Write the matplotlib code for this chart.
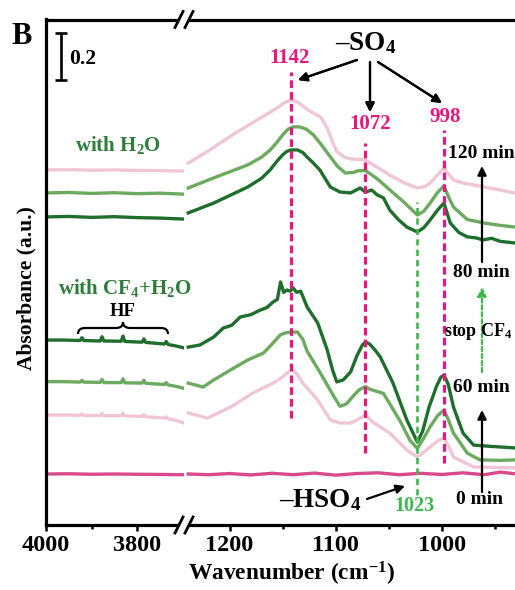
import matplotlib
matplotlib.use("Agg")
import matplotlib.pyplot as plt
from matplotlib.path import Path
from matplotlib.patches import PathPatch, Polygon
from matplotlib.lines import Line2D
from matplotlib.ticker import FixedLocator

plt.rcParams['font.family'] = ['Liberation Serif', 'DejaVu Serif']
plt.rcParams['font.weight'] = 'bold'
plt.rcParams['mathtext.fontset'] = 'custom'
plt.rcParams['mathtext.rm'] = 'Liberation Serif:bold'
plt.rcParams['mathtext.it'] = 'Liberation Serif:bold'
plt.rcParams['mathtext.bf'] = 'Liberation Serif:bold'
plt.rcParams['mathtext.default'] = 'rm'
plt.rcParams['lines.scale_dashes'] = False

# ---------------- spectra (absorbance, stacked) ----------------
# high-wavenumber window (O-H / HF region)
hf_wn = [4000, 3960, 3925, 3921, 3917, 3881, 3877, 3873, 3835, 3831, 3827,
         3789, 3785, 3781, 3740, 3736, 3732, 3715, 3700]
cf4_dark_hf = [0.787, 0.787, 0.785, 0.797, 0.785, 0.783, 0.801, 0.783, 0.782,
               0.804, 0.781, 0.778, 0.792, 0.777, 0.770, 0.781, 0.768, 0.762, 0.755]
cf4_mid_hf = [0.610, 0.610, 0.608, 0.615, 0.608, 0.607, 0.620, 0.606, 0.606,
              0.622, 0.605, 0.604, 0.616, 0.603, 0.598, 0.606, 0.596, 0.590, 0.583]
cf4_pink_hf = [0.468, 0.468, 0.467, 0.472, 0.466, 0.466, 0.474, 0.465, 0.465,
               0.476, 0.464, 0.462, 0.470, 0.461, 0.455, 0.460, 0.452, 0.445, 0.436]

oh_wn = [4000, 3950, 3900, 3850, 3800, 3750, 3700]
h2o_pink_oh = [1.511, 1.512, 1.510, 1.511, 1.509, 1.508, 1.506]
h2o_mid_oh = [1.413, 1.415, 1.411, 1.414, 1.410, 1.412, 1.408]
h2o_dark_oh = [1.311, 1.313, 1.309, 1.312, 1.308, 1.306, 1.302]
t0_oh = [0.217, 0.218, 0.216, 0.217, 0.216, 0.215, 0.214]

# sulfate window
h2o_pink_wn = [1239, 1220, 1199, 1180, 1165, 1155, 1148, 1142, 1136, 1128, 1121, 1114,
               1108, 1103, 1099, 1092, 1086, 1072, 1060, 1049, 1035, 1023, 1016, 1011,
               1004, 998, 993, 989, 980, 970, 950, 931]
h2o_pink = [1.540, 1.592, 1.655, 1.708, 1.748, 1.775, 1.798, 1.809, 1.800, 1.772, 1.753,
            1.735, 1.690, 1.630, 1.590, 1.566, 1.558, 1.553, 1.520, 1.489, 1.455, 1.434,
            1.440, 1.455, 1.490, 1.519, 1.490, 1.468, 1.455, 1.447, 1.430, 1.413]

h2o_mid_wn = [1239, 1215, 1183, 1170, 1162, 1156, 1150, 1145, 1140, 1134, 1128, 1121,
              1113, 1105, 1098, 1091, 1084, 1078, 1072, 1066, 1060, 1049, 1036, 1023,
              1017, 1011, 1004, 998, 993, 989, 976, 960, 945, 931]
h2o_mid = [1.434, 1.477, 1.532, 1.565, 1.595, 1.625, 1.660, 1.684, 1.694, 1.694, 1.685,
           1.660, 1.615, 1.566, 1.525, 1.498, 1.500, 1.508, 1.508, 1.490, 1.470, 1.426,
           1.375, 1.319, 1.335, 1.370, 1.415, 1.443, 1.390, 1.353, 1.300, 1.285, 1.275,
           1.268]

h2o_dark_wn = [1239, 1215, 1183, 1170, 1162, 1155, 1150, 1146, 1142, 1136, 1131, 1127,
               1121, 1115, 1105, 1096, 1086, 1077, 1072, 1066, 1061, 1055, 1049, 1041,
               1033, 1023, 1017, 1011, 1004, 998, 992, 984, 976, 968, 961, 953, 945, 931]
h2o_dark = [1.328, 1.370, 1.438, 1.475, 1.510, 1.550, 1.575, 1.590, 1.596, 1.596, 1.585,
            1.566, 1.540, 1.511, 1.438, 1.417, 1.413, 1.434, 1.417, 1.425, 1.405, 1.392,
            1.340, 1.300, 1.268, 1.247, 1.265, 1.298, 1.340, 1.370, 1.285, 1.245, 1.226,
            1.222, 1.213, 1.220, 1.207, 1.200]

cf4_dark_wn = [1239, 1228, 1215, 1206, 1198, 1190, 1180, 1171, 1165, 1159, 1155, 1152,
               1149, 1146, 1143, 1140, 1137, 1133, 1127, 1117, 1108, 1103, 1099, 1093,
               1086, 1080, 1075, 1072, 1068, 1063, 1058, 1046, 1033, 1027, 1023, 1018,
               1012, 1005, 1001, 998, 994, 989, 980, 970, 955, 931]
cf4_dark = [0.757, 0.766, 0.800, 0.838, 0.850, 0.885, 0.895, 0.915, 0.925, 0.949, 0.960,
            1.034, 0.990, 1.000, 0.995, 1.009, 0.990, 0.995, 0.928, 0.860, 0.745, 0.660,
            0.609, 0.617, 0.651, 0.720, 0.765, 0.779, 0.770, 0.745, 0.715, 0.604, 0.447,
            0.390, 0.353, 0.400, 0.502, 0.590, 0.628, 0.638, 0.600, 0.502, 0.391, 0.340,
            0.335, 0.328]

cf4_mid_wn = [1239, 1225, 1215, 1199, 1183, 1168, 1160, 1152, 1147, 1142, 1136, 1131,
              1127, 1115, 1102, 1096, 1090, 1084, 1078, 1072, 1068, 1055, 1039, 1030,
              1023, 1017, 1011, 1004, 998, 994, 989, 976, 964, 945, 931]
cf4_mid = [0.604, 0.587, 0.617, 0.660, 0.702, 0.732, 0.770, 0.810, 0.818, 0.821, 0.821,
           0.790, 0.740, 0.651, 0.549, 0.505, 0.515, 0.546, 0.575, 0.589, 0.578, 0.560,
           0.440, 0.360, 0.326, 0.370, 0.418, 0.465, 0.489, 0.450, 0.391, 0.306, 0.277,
           0.275, 0.277]

cf4_pink_wn = [1239, 1221, 1199, 1178, 1159, 1150, 1146, 1141, 1136, 1131, 1117, 1105,
               1096, 1086, 1080, 1072, 1065, 1049, 1033, 1023, 1011, 1003, 998, 993,
               989, 970, 950, 931]
cf4_pink = [0.477, 0.455, 0.502, 0.562, 0.604, 0.630, 0.647, 0.660, 0.640, 0.604, 0.532,
            0.447, 0.434, 0.434, 0.447, 0.468, 0.438, 0.391, 0.319, 0.289, 0.332, 0.360,
            0.370, 0.330, 0.289, 0.247, 0.245, 0.243]

t0_wn = [1239, 1220, 1200, 1180, 1160, 1140, 1120, 1100, 1080, 1060, 1040, 1020,
         1000, 980, 960, 945, 931]
t0 = [0.217, 0.214, 0.219, 0.213, 0.220, 0.214, 0.221, 0.212, 0.219, 0.222, 0.214,
      0.220, 0.215, 0.222, 0.214, 0.225, 0.218]

# band positions
so4_bands = [1142, 1072, 998]
hso4_band = 1023

# ---------------- styling ----------------
DARK = '#1f6e2d'
MID = '#6cab5f'
PINK = '#f0c6d7'
T0 = '#d94b88'
MAG = '#e6177f'
GRN = '#3db84b'
LABEL_GREEN = '#2e7d3a'

W, H = 515, 590
fig = plt.figure(figsize=(W / 100, H / 100), dpi=100)


def fp(x, y):
    """pixel position -> figure fraction"""
    return (x / W, 1 - y / H)


x_left, x_break, x_right = 46, 184, 515
y_top, y_bot = 19.5, 525
ax1 = fig.add_axes([x_left / W, 1 - y_bot / H, (x_break - x_left) / W, (y_bot - y_top) / H])
ax2 = fig.add_axes([x_break / W, 1 - y_bot / H, (x_right - x_break) / W, (y_bot - y_top) / H])

ymax = (y_bot - y_top) / 235.0
for ax in (ax1, ax2):
    ax.set_ylim(0, ymax)
    ax.set_yticks([])
    for s in ('top', 'bottom', 'left', 'right'):
        ax.spines[s].set_linewidth(2.3)
    ax.spines['right'].set_visible(False)
    ax.tick_params(axis='x', which='major', direction='out', length=4.5, width=1.8,
                   labelsize=17.5, pad=3)
    ax.tick_params(axis='x', which='minor', direction='out', length=3, width=1.8)
    ax.set_facecolor('none')
ax2.spines['left'].set_visible(False)

ax1.set_xlim(4000, 3697)
ax2.set_xlim(1243, 931)
ax1.xaxis.set_major_locator(FixedLocator([4000, 3800]))
ax1.xaxis.set_minor_locator(FixedLocator([3900]))
ax2.xaxis.set_major_locator(FixedLocator([1200, 1100, 1000]))
ax2.xaxis.set_minor_locator(FixedLocator([1150, 1050, 950]))

lw = 2.4
# high-wavenumber window
ax1.plot(oh_wn, h2o_pink_oh, color=PINK, lw=lw)
ax1.plot(oh_wn, h2o_mid_oh, color=MID, lw=lw)
ax1.plot(oh_wn, h2o_dark_oh, color=DARK, lw=lw)
ax1.plot(hf_wn, cf4_pink_hf, color=PINK, lw=lw)
ax1.plot(hf_wn, cf4_mid_hf, color=MID, lw=lw)
ax1.plot(hf_wn, cf4_dark_hf, color=DARK, lw=lw)
ax1.plot(oh_wn, t0_oh, color=T0, lw=lw)

# sulfate window
ax2.plot(h2o_pink_wn, h2o_pink, color=PINK, lw=lw, zorder=2)
ax2.plot(h2o_mid_wn, h2o_mid, color=MID, lw=lw, zorder=2)
ax2.plot(h2o_dark_wn, h2o_dark, color=DARK, lw=lw, zorder=2)
ax2.plot(cf4_pink_wn, cf4_pink, color=PINK, lw=lw, zorder=2)
ax2.plot(cf4_mid_wn, cf4_mid, color=MID, lw=lw, zorder=2)
ax2.plot(cf4_dark_wn, cf4_dark, color=DARK, lw=lw, zorder=2)
ax2.plot(t0_wn, t0, color=T0, lw=lw, zorder=2)

# band guide lines
band_spans = {1142: (0.455, 1.928), 1072: (0.306, 1.626), 998: (0.264, 1.681)}
for b in so4_bands:
    lo, hi = band_spans[b]
    ax2.plot([b, b], [lo, hi], color=MAG, lw=2.3, dashes=(5.5, 3), zorder=3)
ax2.plot([hso4_band, hso4_band], [0.128, 1.374], color=GRN, lw=1.9, dashes=(4.5, 3), zorder=3)

# scale bar (0.2 absorbance)
sb_x, sb_y0 = 3966, 1.894
ax1.plot([sb_x, sb_x], [sb_y0, sb_y0 + 0.2], color='k', lw=1.9, solid_capstyle='butt')
ax1.plot([sb_x, sb_x], [sb_y0, sb_y0 + 0.2], ls='none', marker='_', ms=8, mew=1.9, color='k')
fig.text(*fp(69, 59), '0.2', fontsize=15.5, ha='left', va='center')

# axis break marks
for yb in (y_top, y_bot):
    a = [(x_break - 9, yb + 8), (x_break - 1, yb - 8)]
    b = [(x_break + 1, yb + 8), (x_break + 9, yb - 8)]
    gap = Polygon([fp(*a[0]), fp(*a[1]), fp(*b[1]), fp(*b[0])], closed=True,
                  transform=fig.transFigure, facecolor='white', edgecolor='none', zorder=10)
    fig.add_artist(gap)
    for seg in (a, b):
        fig.add_artist(Line2D([fp(*seg[0])[0], fp(*seg[1])[0]],
                              [fp(*seg[0])[1], fp(*seg[1])[1]],
                              transform=fig.transFigure, color='k', lw=2.0, zorder=11))

# axis labels
fig.text(*fp(291, 574), 'Wavenumber (cm$^{-1}$)', fontsize=16.8, ha='center', va='center')
fig.text(*fp(26, 288), 'Absorbance (a.u.)', fontsize=15.5, ha='center', va='center',
         rotation=90)
fig.text(*fp(22, 37), 'B', fontsize=22, ha='center', va='center')

# band labels
fig.text(*fp(290, 58), '1142', color=MAG, fontsize=15, ha='center', va='center')
fig.text(*fp(370, 124), '1072', color=MAG, fontsize=15, ha='center', va='center')
fig.text(*fp(445, 117), '998', color=MAG, fontsize=15, ha='center', va='center')
fig.text(*fp(415, 506), '1023', color=GRN, fontsize=14.5, ha='center', va='center')

fig.text(*fp(366, 43), '–SO$_4$', fontsize=19.5, ha='center', va='center')
arrow_kw = dict(arrowstyle='-|>', color='k', lw=1.6, mutation_scale=13, shrinkA=0, shrinkB=0)
for tail, head in (((357, 60), (298, 80)), ((370, 62), (370, 112)), ((378, 62), (442, 103))):
    fig.add_artist(plt.annotate('', xy=fp(*head), xytext=fp(*tail),
                                xycoords='figure fraction', textcoords='figure fraction',
                                arrowprops=arrow_kw))

fig.text(*fp(320, 500), '–HSO$_4$', fontsize=19.5, ha='center', va='center')
plt.annotate('', xy=fp(405, 486), xytext=fp(367, 499), xycoords='figure fraction',
             textcoords='figure fraction', arrowprops=arrow_kw)

# group labels
fig.text(*fp(118, 145), 'with H$_2$O', color=LABEL_GREEN, fontsize=15, ha='center', va='center')
fig.text(*fp(125, 288), 'with CF$_4$+H$_2$O', color=LABEL_GREEN, fontsize=15,
         ha='center', va='center')
fig.text(*fp(123, 311), 'HF', fontsize=13.5, ha='center', va='center')

# brace over HF bands
bp = [(78, 334), (78, 328), (85, 328), (116, 328), (123, 328), (123, 322),
      (123, 328), (130, 328), (161, 328), (168, 328), (168, 334)]
codes = [Path.MOVETO, Path.CURVE3, Path.CURVE3, Path.LINETO, Path.CURVE3, Path.CURVE3,
         Path.CURVE3, Path.CURVE3, Path.LINETO, Path.CURVE3, Path.CURVE3]
fig.add_artist(PathPatch(Path([fp(*p) for p in bp], codes), transform=fig.transFigure,
                         facecolor='none', edgecolor='k', lw=1.6))

# time annotations
fig.text(*fp(481, 153), '120 min', fontsize=14, ha='center', va='center')
fig.text(*fp(481, 272), '80 min', fontsize=14, ha='center', va='center')
fig.text(*fp(478, 332), 'stop CF$_4$', fontsize=13, ha='center', va='center')
fig.text(*fp(481, 388), '60 min', fontsize=14, ha='center', va='center')
fig.text(*fp(480, 499), '0 min', fontsize=14, ha='center', va='center')

plt.annotate('', xy=fp(482, 166), xytext=fp(482, 262), xycoords='figure fraction',
             textcoords='figure fraction', arrowprops=arrow_kw)
plt.annotate('', xy=fp(482, 410), xytext=fp(482, 492), xycoords='figure fraction',
             textcoords='figure fraction', arrowprops=arrow_kw)
plt.annotate('', xy=fp(482, 287), xytext=fp(482, 372), xycoords='figure fraction',
             textcoords='figure fraction',
             arrowprops=dict(arrowstyle='-|>', color=GRN, lw=1.6, ls=(0, (3, 2)),
                             mutation_scale=13, shrinkA=0, shrinkB=0))

fig.savefig('out.png', dpi=100)
